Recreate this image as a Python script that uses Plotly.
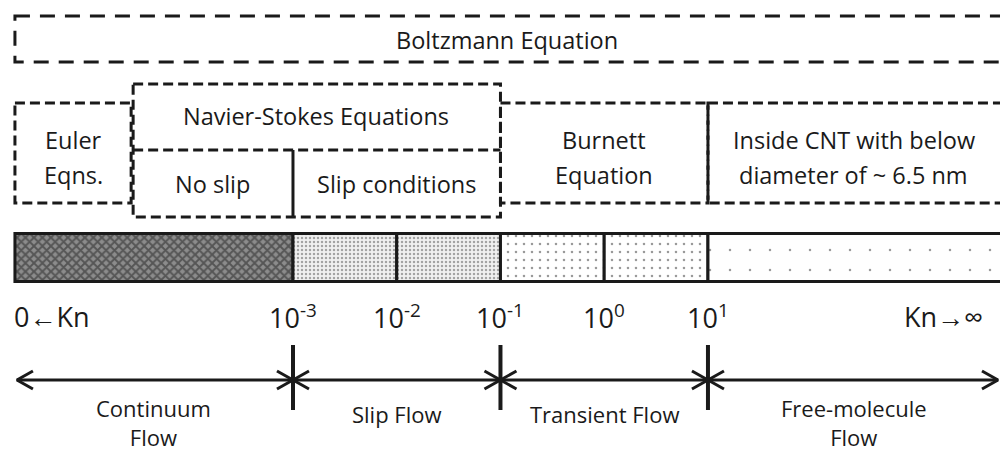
import plotly.graph_objects as go

# ---------------- data ----------------
kn_exponents = [-3, -2, -1, 0, 1]
kn_tick_labels = ["10<sup>-3</sup>", "10<sup>-2</sup>", "10<sup>-1</sup>", "10<sup>0</sup>", "10<sup>1</sup>"]
end_labels = ["0\u2190Kn", "Kn\u2192\u221e"]

KN_LEFT = -5.68    # left end of the Kn scale (log10 units)
KN_RIGHT = 3.90    # right end (runs off the picture)

# bar segments (log10 Kn)
seg_start = [KN_LEFT, -3, -2, -1, 0, 1]
seg_end = [-3, -2, -1, 0, 1, KN_RIGHT]
seg_regime = ["continuum", "slip", "slip", "transient", "transient", "free"]

# flow regimes
regime_names = ["Continuum<br>Flow", "Slip Flow", "Transient Flow", "Free-molecule<br>Flow"]
regime_bounds = [KN_LEFT, -3, -1, 1, KN_RIGHT]

# governing-equation boxes
NS_LEFT = -4.56
boltzmann_label = "Boltzmann Equation"
eq_labels = ["Euler<br>Eqns.", "Burnett<br>Equation", "Inside CNT with below<br>diameter of ~ 6.5 nm"]
eq_x0 = [KN_LEFT, -1, 1]
eq_x1 = [NS_LEFT, 1, KN_RIGHT]
ns_label = "Navier-Stokes Equations"
ns_sub_labels = ["No slip", "Slip conditions"]
ns_sub_x0 = [NS_LEFT, -3]
ns_sub_x1 = [-3, -1]

# ---------------- styling / layout constants ----------------
W, H = 1000, 455
XMIN, XMAX = -5.824, 3.815
PX = (XMAX - XMIN) / W          # x units per pixel
FONT = "Open Sans, Noto Sans, sans-serif"
BLACK = "#1a1a1a"
TXT = 23.5

patterns = {
    "continuum": dict(shape="x", size=6, solidity=0.55, fgcolor="#1e1e1e", bgcolor="#8c8c8c"),
    "slip": dict(shape=".", size=4, solidity=0.3, fgcolor="#555555", bgcolor="#f0f0f0"),
    "transient": dict(shape=".", size=8, solidity=0.08, fgcolor="#333333", bgcolor="#ffffff"),
    "free": dict(shape=".", size=20, solidity=0.012, fgcolor="#333333", bgcolor="#ffffff"),
}

fig = go.Figure()

# ---- Kn bar ----
BAR_Y, BAR_H = 257.5, 48
for s, e, r in zip(seg_start, seg_end, seg_regime):
    fig.add_trace(go.Bar(
        x=[e - s], base=[s], y=[BAR_Y], width=[BAR_H], orientation="h",
        marker=dict(color=patterns[r]["bgcolor"], pattern=patterns[r],
                    line=dict(color=BLACK, width=3)),
        hoverinfo="skip", showlegend=False))

# ---- Kn labels ----
LBL_Y = 316
for k, t in zip(kn_exponents, kn_tick_labels):
    fig.add_annotation(x=k, y=LBL_Y, text=t, showarrow=False, xanchor="center",
                       yanchor="middle", font=dict(size=27, color=BLACK, family=FONT))
fig.add_annotation(x=KN_LEFT, y=LBL_Y, text=end_labels[0], showarrow=False, xanchor="left",
                   yanchor="middle", xshift=-3, font=dict(size=27, color=BLACK, family=FONT))
fig.add_annotation(x=XMAX, y=LBL_Y, text=end_labels[1], showarrow=False, xanchor="right",
                   yanchor="middle", xshift=-15, font=dict(size=27, color=BLACK, family=FONT))

# ---- regime arrows ----
ARR_Y = 380
tip_left = KN_LEFT + 2 * PX
tip_right = XMAX - 2 * PX
fig.add_shape(type="line", x0=tip_left, x1=tip_right, y0=ARR_Y, y1=ARR_Y,
              line=dict(color=BLACK, width=3))
for b in regime_bounds[1:-1]:
    fig.add_shape(type="line", x0=b, x1=b, y0=345, y1=410, line=dict(color=BLACK, width=4))

AL, AW = 16 * PX, 9
cx, cy = [], []
for i in range(len(regime_names)):
    a = regime_bounds[i] if i > 0 else tip_left
    b = regime_bounds[i + 1] if i < len(regime_names) - 1 else tip_right
    cx += [a + AL, a, a + AL, None, b - AL, b, b - AL, None]
    cy += [ARR_Y - AW, ARR_Y, ARR_Y + AW, None, ARR_Y - AW, ARR_Y, ARR_Y + AW, None]
fig.add_trace(go.Scatter(x=cx, y=cy, mode="lines", line=dict(color=BLACK, width=3),
                         hoverinfo="skip", showlegend=False))


def multiline(xc, yc, text, size, spacing):
    lines = text.split("<br>")
    n = len(lines)
    for j, ln in enumerate(lines):
        fig.add_annotation(x=xc, y=yc + (j - (n - 1) / 2) * spacing, text=ln, showarrow=False,
                           xanchor="center", yanchor="middle",
                           font=dict(size=size, color=BLACK, family=FONT))


for i, name in enumerate(regime_names):
    a, b = regime_bounds[i], min(regime_bounds[i + 1], XMAX)
    two = "<br>" in name
    fig.add_annotation(x=(a + b) / 2, y=H - 1 if two else 414, text=name, showarrow=False,
                       xanchor="center", yanchor="bottom" if two else "middle", align="center",
                       font=dict(size=22, color=BLACK, family=FONT))

# ---- equation boxes ----
SMALL_DASH = "10px,5px"
fig.add_shape(type="rect", x0=KN_LEFT, x1=KN_RIGHT, y0=16, y1=62,
              line=dict(color=BLACK, width=3, dash="15px,10px"))
fig.add_annotation(x=(KN_LEFT + XMAX) / 2, y=40, text=boltzmann_label, showarrow=False,
                   xanchor="center", yanchor="middle", font=dict(size=TXT, color=BLACK, family=FONT))

for lbl, a, b in zip(eq_labels, eq_x0, eq_x1):
    fig.add_shape(type="rect", x0=a, x1=b, y0=103, y1=203,
                  line=dict(color=BLACK, width=3, dash=SMALL_DASH))
    multiline((a + min(b, XMAX)) / 2, 157, lbl, TXT, 35)

fig.add_shape(type="rect", x0=NS_LEFT + 2 * PX, x1=-1, y0=84, y1=217,
              line=dict(color=BLACK, width=3, dash=SMALL_DASH))
fig.add_shape(type="line", x0=NS_LEFT + 2 * PX, x1=-1, y0=150, y1=150,
              line=dict(color=BLACK, width=3, dash=SMALL_DASH))
fig.add_shape(type="line", x0=-3, x1=-3, y0=150, y1=217, line=dict(color=BLACK, width=3))
fig.add_annotation(x=(NS_LEFT + -1) / 2, y=116, text=ns_label, showarrow=False,
                   xanchor="center", yanchor="middle", font=dict(size=TXT, color=BLACK, family=FONT))
for lbl, a, b in zip(ns_sub_labels, ns_sub_x0, ns_sub_x1):
    fig.add_annotation(x=(a + b) / 2, y=184, text=lbl, showarrow=False,
                       xanchor="center", yanchor="middle", font=dict(size=TXT, color=BLACK, family=FONT))

fig.update_layout(
    width=W, height=H, margin=dict(l=0, r=0, t=0, b=0),
    paper_bgcolor="white", plot_bgcolor="white", barmode="overlay",
    xaxis=dict(range=[XMIN, XMAX], visible=False, fixedrange=True),
    yaxis=dict(range=[H, 0], visible=False, fixedrange=True),
    showlegend=False,
)

fig.write_html("out.html", config={"displayModeBar": False},
               post_script="document.body.style.margin='0';document.body.style.overflow='hidden';")
